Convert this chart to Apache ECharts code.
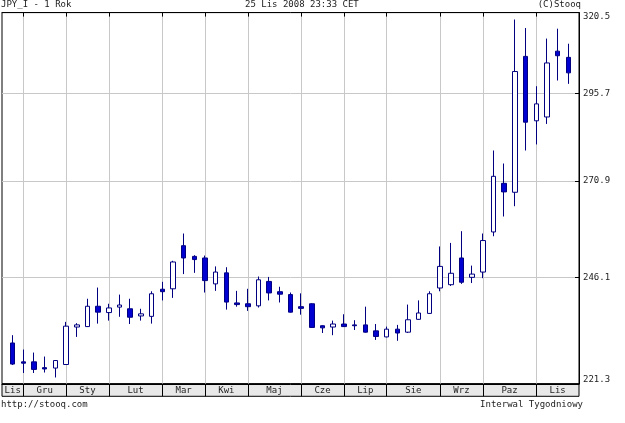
<!DOCTYPE html>
<html><head><meta charset="utf-8">
<script src="https://cdn.jsdelivr.net/npm/echarts@6/dist/echarts.min.js"></script>
<style>html,body{margin:0;padding:0;background:#fff}#c{width:625px;height:423px}</style>
</head><body><div id="c"></div>
<script>
// Weekly JPY_I candles, Nov 2007 - Nov 2008 (index 0..52)
const openV  = [230.5,226.2,226.2,224.9,224.8,225.6,234.2,234.3,239.1,237.6,238.9,238.5,236.8,236.7,243.2,243.3,254.0,251.3,250.9,244.5,247.2,239.9,239.7,239.2,245.1,242.6,241.9,239.0,239.7,234.5,234.2,234.9,234.7,234.7,233.3,231.9,233.7,233.0,236.0,237.4,243.5,244.3,250.9,246.1,247.4,257.5,270.3,267.9,306.8,287.7,288.8,308.4,306.5];
const closeV = [225.7,225.9,224.5,224.6,226.5,234.4,234.7,239.1,237.7,238.7,239.4,236.5,237.3,242.1,242.6,249.9,250.9,250.5,245.3,247.4,240.1,239.5,239.0,245.5,242.3,242.0,237.7,238.6,234.1,234.0,234.9,234.3,234.5,233.0,232.0,233.7,232.8,235.9,237.5,242.1,248.8,247.1,244.9,246.9,255.3,272.2,268.0,302.2,287.3,292.6,304.8,307.0,301.8];
const lowV   = [225.5,223.7,223.7,223.8,222.7,225.5,231.9,234.2,235.0,235.7,236.6,234.9,235.7,235.0,240.5,241.1,246.9,247.2,242.4,242.8,238.3,239.0,238.0,238.8,240.5,240.0,237.6,237.1,234.0,232.8,232.3,234.2,233.5,232.9,231.2,231.8,231.0,232.8,235.9,237.3,242.7,244.0,244.5,244.7,245.9,256.4,261.5,264.2,279.3,281.0,286.8,299.5,298.5];
const highV  = [232.3,229.0,228.3,227.4,226.6,235.4,235.1,240.9,243.6,239.7,241.9,240.9,238.5,242.7,245.0,250.2,257.1,251.6,251.5,248.8,248.6,242.8,243.3,246.3,246.2,243.8,242.4,242.2,239.8,234.6,235.7,237.2,235.8,239.0,234.9,234.3,234.7,239.5,240.5,242.7,253.8,254.7,257.7,249.0,257.1,279.3,275.7,318.3,315.6,297.8,312.3,315.4,310.7];

const monthNames = ['Lis','Gru','Sty','Lut','Mar','Kwi','Maj','Cze','Lip','Sie','Wrz','Paz','Lis'];
const monthStart = [0,1,5,9,14,18,22,27,31,35,40,44,49];
const yTicks = [221.3,246.1,270.9,295.7,320.5];

const headerLeft = 'JPY_I - 1 Rok';
const headerMid = '25 Lis 2008 23:33 CET';
const headerRight = '(C)Stooq';
const footerLeft = 'http://stooq.com';
const footerRight = 'Interwal Tygodniowy';

const X_MIN = -1, X_MAX = 53;
const FONT = 'DejaVu Sans Mono';

const data = openV.map((o, i) => [i, o, closeV[i], lowV[i], highV[i]]);
const seps = monthStart.slice(1);
const mids = monthStart.map((s, k) => {
  const a = k === 0 ? X_MIN : s;
  const b = k === monthStart.length - 1 ? X_MAX : monthStart[k + 1];
  return (a + b) / 2;
});
function monthLabel(v) {
  for (let k = 0; k < mids.length; k++) if (Math.abs(mids[k] - v) < 1e-6) return monthNames[k];
  return '';
}

const chart = echarts.init(document.getElementById('c'));
chart.setOption({
  animation: false,
  backgroundColor: '#fff',
  grid: { left: 2, right: 46, top: 12.6, bottom: 39.2, show: true, borderColor: '#000', borderWidth: 1 },
  xAxis: [{
    type: 'value', min: X_MIN, max: X_MAX, position: 'bottom',
    axisLine: { show: true, onZero: false, lineStyle: { color: '#000', width: 1 } },
    axisTick: { show: true, inside: false, length: 12.5, customValues: seps, lineStyle: { color: '#000' } },
    axisLabel: { show: true, customValues: mids, formatter: monthLabel, margin: 2, color: '#222', fontFamily: FONT, fontSize: 9 },
    splitLine: { show: true, lineStyle: { color: '#c8c8c8', width: 1 } }
  }, {
    type: 'value', min: X_MIN, max: X_MAX, position: 'top',
    axisLine: { show: true, onZero: false, lineStyle: { color: '#000', width: 1 } },
    axisTick: { show: true, inside: true, length: 4, customValues: seps, lineStyle: { color: '#000' } },
    axisLabel: { show: false },
    splitLine: { show: false }
  }],
  yAxis: {
    type: 'log', logBase: 10, min: 221.3, max: 320.5, position: 'right',
    axisLine: { show: true, onZero: false, lineStyle: { color: '#000', width: 1 } },
    axisTick: { show: true, inside: true, length: 4, customValues: yTicks, lineStyle: { color: '#000' } },
    axisLabel: { show: true, customValues: yTicks, formatter: v => Number(v).toFixed(1), margin: 4,
      color: '#222', fontFamily: FONT, fontSize: 9, verticalAlignMinLabel: 'bottom', verticalAlignMaxLabel: 'top' },
    splitLine: { show: true, lineStyle: { color: '#c8c8c8', width: 1 } }
  },
  series: [{
    type: 'candlestick', xAxisIndex: 0, yAxisIndex: 0,
    data: data, encode: { x: 0, y: [1, 2, 3, 4] },
    barWidth: 5,
    itemStyle: { color: '#ffffff', color0: '#0000d0', borderColor: '#000080', borderColor0: '#000080', borderWidth: 1 }
  }],
  graphic: [
    { type: 'rect', z: -10, shape: { x: 2, y: 383.8, width: 577, height: 12.5 }, style: { fill: '#e8e8e8', stroke: '#000', lineWidth: 1 } },
    { type: 'text', left: 1, top: 0, style: { text: headerLeft, font: '9px ' + FONT, fill: '#222' } },
    { type: 'text', left: 245, top: 0, style: { text: headerMid, font: '9px ' + FONT, fill: '#222' } },
    { type: 'text', right: 44, top: 0, style: { text: headerRight, font: '9px ' + FONT, fill: '#222' } },
    { type: 'text', left: 1, top: 400, style: { text: footerLeft, font: '9px ' + FONT, fill: '#222' } },
    { type: 'text', right: 42, top: 400, style: { text: footerRight, font: '9px ' + FONT, fill: '#222' } }
  ]
});
</script></body></html>
